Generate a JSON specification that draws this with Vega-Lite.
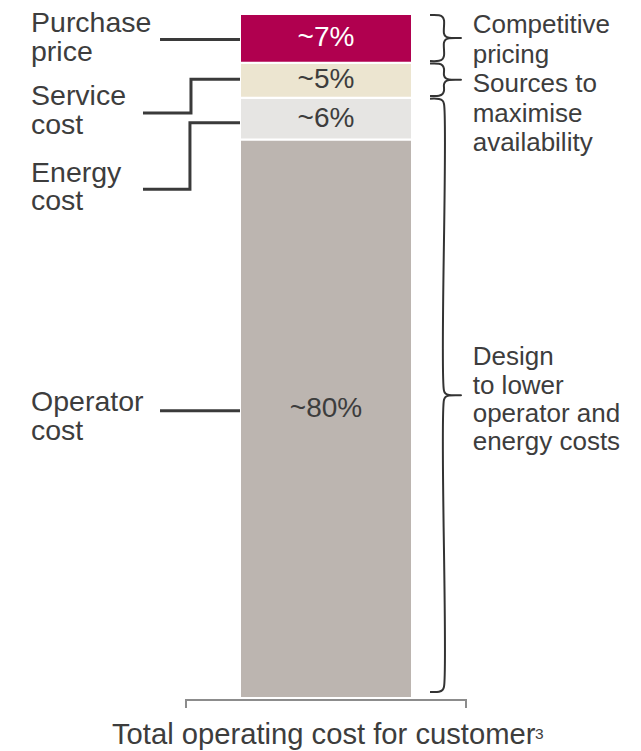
{
  "$schema": "https://vega.github.io/schema/vega-lite/v6.json",
  "width": 641,
  "height": 751,
  "autosize": {"type": "none"},
  "padding": 0,
  "background": "white",
  "config": {
    "view": {"stroke": null},
    "text": {"font": "Liberation Sans", "color": "#3d3d3d"}
  },
  "datasets": {
    "costs": [
      {"cost": "Operator cost", "share": 80, "label": "~80%", "rank": 1},
      {"cost": "Energy cost", "share": 6, "label": "~6%", "rank": 2},
      {"cost": "Service cost", "share": 5, "label": "~5%", "rank": 3},
      {"cost": "Purchase price", "share": 7, "label": "~7%", "rank": 4}
    ],
    "leaders": [
      {"lead": "Purchase price", "seq": 1, "x": -96.5, "y": 94.34},
      {"lead": "Purchase price", "seq": 2, "x": -50, "y": 94.34},
      {"lead": "Service cost", "seq": 1, "x": -106.4, "y": 83.81},
      {"lead": "Service cost", "seq": 2, "x": -78.5, "y": 83.81},
      {"lead": "Service cost", "seq": 3, "x": -78.5, "y": 88.64},
      {"lead": "Service cost", "seq": 4, "x": -50, "y": 88.64},
      {"lead": "Energy cost", "seq": 1, "x": -106.4, "y": 72.88},
      {"lead": "Energy cost", "seq": 2, "x": -79.1, "y": 72.88},
      {"lead": "Energy cost", "seq": 3, "x": -79.1, "y": 82.42},
      {"lead": "Energy cost", "seq": 4, "x": -50, "y": 82.42},
      {"lead": "Operator cost", "seq": 1, "x": -96.5, "y": 41.16},
      {"lead": "Operator cost", "seq": 2, "x": -50, "y": 41.16}
    ],
    "braces": [
      {"brace": "pricing", "seq": 1, "x": 60.47, "y": 97.85},
      {"brace": "pricing", "seq": 2, "x": 65.7, "y": 97.81},
      {"brace": "pricing", "seq": 3, "x": 67.73, "y": 97.57},
      {"brace": "pricing", "seq": 4, "x": 68.6, "y": 97.1},
      {"brace": "pricing", "seq": 5, "x": 68.6, "y": 95.2},
      {"brace": "pricing", "seq": 6, "x": 69.48, "y": 94.8},
      {"brace": "pricing", "seq": 7, "x": 71.51, "y": 94.59},
      {"brace": "pricing", "seq": 8, "x": 78.49, "y": 94.55},
      {"brace": "pricing", "seq": 9, "x": 71.51, "y": 94.51},
      {"brace": "pricing", "seq": 10, "x": 69.48, "y": 94.3},
      {"brace": "pricing", "seq": 11, "x": 68.6, "y": 93.9},
      {"brace": "pricing", "seq": 12, "x": 68.6, "y": 92.0},
      {"brace": "pricing", "seq": 13, "x": 67.73, "y": 91.53},
      {"brace": "pricing", "seq": 14, "x": 65.7, "y": 91.29},
      {"brace": "pricing", "seq": 15, "x": 60.47, "y": 91.25},
      {"brace": "sources", "seq": 1, "x": 60.47, "y": 90.9},
      {"brace": "sources", "seq": 2, "x": 65.7, "y": 90.86},
      {"brace": "sources", "seq": 3, "x": 67.73, "y": 90.62},
      {"brace": "sources", "seq": 4, "x": 68.6, "y": 90.15},
      {"brace": "sources", "seq": 5, "x": 68.6, "y": 89.23},
      {"brace": "sources", "seq": 6, "x": 69.48, "y": 88.83},
      {"brace": "sources", "seq": 7, "x": 71.51, "y": 88.62},
      {"brace": "sources", "seq": 8, "x": 78.49, "y": 88.58},
      {"brace": "sources", "seq": 9, "x": 71.51, "y": 88.54},
      {"brace": "sources", "seq": 10, "x": 69.48, "y": 88.33},
      {"brace": "sources", "seq": 11, "x": 68.6, "y": 87.93},
      {"brace": "sources", "seq": 12, "x": 68.6, "y": 87.0},
      {"brace": "sources", "seq": 13, "x": 67.73, "y": 86.53},
      {"brace": "sources", "seq": 14, "x": 65.7, "y": 86.29},
      {"brace": "sources", "seq": 15, "x": 60.47, "y": 86.25},
      {"brace": "design", "seq": 1, "x": 60.47, "y": 85.86},
      {"brace": "design", "seq": 2, "x": 65.7, "y": 85.82},
      {"brace": "design", "seq": 3, "x": 67.73, "y": 85.58},
      {"brace": "design", "seq": 4, "x": 68.6, "y": 85.11},
      {"brace": "design", "seq": 5, "x": 68.6, "y": 44.01},
      {"brace": "design", "seq": 6, "x": 69.48, "y": 43.61},
      {"brace": "design", "seq": 7, "x": 71.51, "y": 43.4},
      {"brace": "design", "seq": 8, "x": 78.49, "y": 43.36},
      {"brace": "design", "seq": 9, "x": 71.51, "y": 43.32},
      {"brace": "design", "seq": 10, "x": 69.48, "y": 43.11},
      {"brace": "design", "seq": 11, "x": 68.6, "y": 42.71},
      {"brace": "design", "seq": 12, "x": 68.6, "y": 1.61},
      {"brace": "design", "seq": 13, "x": 67.73, "y": 1.14},
      {"brace": "design", "seq": 14, "x": 65.7, "y": 0.9},
      {"brace": "design", "seq": 15, "x": 60.47, "y": 0.86}
    ],
    "bracket": [
      {"seq": 1, "x": -81.4, "y": -1.44},
      {"seq": 2, "x": -81.4, "y": -0.29},
      {"seq": 3, "x": 81.4, "y": -0.29},
      {"seq": 4, "x": 81.4, "y": -1.44}
    ]
  },
  "layer": [
    {
      "data": {"name": "costs"},
      "transform": [
        {"stack": "share", "groupby": [], "sort": [{"field": "rank"}], "as": ["lo", "hi"]}
      ],
      "mark": {"type": "bar", "stroke": "white", "strokeWidth": 2},
      "encoding": {
        "x": {"datum": -50, "type": "quantitative", "axis": null,
              "scale": {"domain": [-189.535, 183.14], "nice": false, "zero": false}},
        "x2": {"datum": 50},
        "y": {"field": "lo", "type": "quantitative", "axis": null,
              "scale": {"domain": [-7.6, 100], "nice": false, "zero": false}},
        "y2": {"field": "hi"},
        "color": {"field": "cost", "type": "nominal", "legend": null,
                  "scale": {"domain": ["Purchase price", "Service cost", "Energy cost", "Operator cost"],
                            "range": ["#b0004f", "#ece5d0", "#e6e5e3", "#bcb5b0"]}}
      }
    },
    {
      "data": {"name": "costs"},
      "transform": [
        {"stack": "share", "groupby": [], "sort": [{"field": "rank"}], "as": ["lo", "hi"]},
        {"calculate": "(datum.lo + datum.hi) / 2", "as": "mid"},
        {"filter": "datum.share < 50"}
      ],
      "mark": {"type": "text", "fontSize": 28, "align": "center", "baseline": "middle"},
      "encoding": {
        "x": {"datum": 0, "type": "quantitative"},
        "y": {"field": "mid", "type": "quantitative"},
        "text": {"field": "label"},
        "color": {"condition": {"test": "datum.cost === 'Purchase price'", "value": "white"}, "value": "#3d3d3d"}
      }
    },
    {
      "data": {"name": "costs"},
      "transform": [
        {"stack": "share", "groupby": [], "sort": [{"field": "rank"}], "as": ["lo", "hi"]},
        {"calculate": "(datum.lo + datum.hi) / 2", "as": "mid"},
        {"filter": "datum.share >= 50"}
      ],
      "mark": {"type": "text", "fontSize": 28, "align": "center", "baseline": "middle", "dy": -10, "color": "#3d3d3d"},
      "encoding": {
        "x": {"datum": 0, "type": "quantitative"},
        "y": {"field": "mid", "type": "quantitative"},
        "text": {"field": "label"}
      }
    },
    {
      "data": {"name": "leaders"},
      "mark": {"type": "line", "color": "#3a3a3a", "strokeWidth": 3, "strokeJoin": "miter", "strokeCap": "butt"},
      "encoding": {
        "x": {"field": "x", "type": "quantitative"},
        "y": {"field": "y", "type": "quantitative"},
        "detail": {"field": "lead"},
        "order": {"field": "seq"}
      }
    },
    {
      "data": {"name": "braces"},
      "mark": {"type": "line", "color": "#333333", "strokeWidth": 2, "interpolate": "catmull-rom"},
      "encoding": {
        "x": {"field": "x", "type": "quantitative"},
        "y": {"field": "y", "type": "quantitative"},
        "detail": {"field": "brace"},
        "order": {"field": "seq"}
      }
    },
    {
      "data": {"name": "bracket"},
      "mark": {"type": "line", "color": "#8c8c8c", "strokeWidth": 2, "strokeJoin": "miter"},
      "encoding": {
        "x": {"field": "x", "type": "quantitative"},
        "y": {"field": "y", "type": "quantitative"},
        "order": {"field": "seq"}
      }
    },
    {
      "data": {"values": [{}]},
      "mark": {"type": "text", "text": ["Purchase", "price"], "fontSize": 28.5, "lineHeight": 28.7, "align": "left", "baseline": "alphabetic"},
      "encoding": {"x": {"datum": -171.5, "type": "quantitative"}, "y": {"datum": 95.37, "type": "quantitative"}}
    },
    {
      "data": {"values": [{}]},
      "mark": {"type": "text", "text": ["Service", "cost"], "fontSize": 28.5, "lineHeight": 28.7, "align": "left", "baseline": "alphabetic"},
      "encoding": {"x": {"datum": -171.5, "type": "quantitative"}, "y": {"datum": 84.96, "type": "quantitative"}}
    },
    {
      "data": {"values": [{}]},
      "mark": {"type": "text", "text": ["Energy", "cost"], "fontSize": 28.5, "lineHeight": 28.7, "align": "left", "baseline": "alphabetic"},
      "encoding": {"x": {"datum": -171.5, "type": "quantitative"}, "y": {"datum": 73.97, "type": "quantitative"}}
    },
    {
      "data": {"values": [{}]},
      "mark": {"type": "text", "text": ["Operator", "cost"], "fontSize": 28.5, "lineHeight": 28.7, "align": "left", "baseline": "alphabetic"},
      "encoding": {"x": {"datum": -171.5, "type": "quantitative"}, "y": {"datum": 41.11, "type": "quantitative"}}
    },
    {
      "data": {"values": [{}]},
      "mark": {"type": "text", "text": ["Competitive", "pricing"], "fontSize": 26, "lineHeight": 29.7, "align": "left", "baseline": "alphabetic"},
      "encoding": {"x": {"datum": 85.29, "type": "quantitative"}, "y": {"datum": 95.23, "type": "quantitative"}}
    },
    {
      "data": {"values": [{}]},
      "mark": {"type": "text", "text": ["Sources to", "maximise", "availability"], "fontSize": 26, "lineHeight": 29.7, "align": "left", "baseline": "alphabetic"},
      "encoding": {"x": {"datum": 85.29, "type": "quantitative"}, "y": {"datum": 86.82, "type": "quantitative"}}
    },
    {
      "data": {"values": [{}]},
      "mark": {"type": "text", "text": ["Design", "to lower", "operator and", "energy costs"], "fontSize": 26, "lineHeight": 28.3, "align": "left", "baseline": "alphabetic"},
      "encoding": {"x": {"datum": 85.29, "type": "quantitative"}, "y": {"datum": 47.65, "type": "quantitative"}}
    },
    {
      "data": {"values": [{}]},
      "mark": {"type": "text", "text": "Total operating cost for customer", "fontSize": 29.2, "align": "left", "baseline": "alphabetic"},
      "encoding": {"x": {"datum": -124.42, "type": "quantitative"}, "y": {"datum": -6.64, "type": "quantitative"}}
    },
    {
      "data": {"values": [{}]},
      "mark": {"type": "text", "text": "3", "fontSize": 15.5, "align": "left", "baseline": "alphabetic"},
      "encoding": {"x": {"datum": 121.51, "type": "quantitative"}, "y": {"datum": -5.92, "type": "quantitative"}}
    }
  ]
}
